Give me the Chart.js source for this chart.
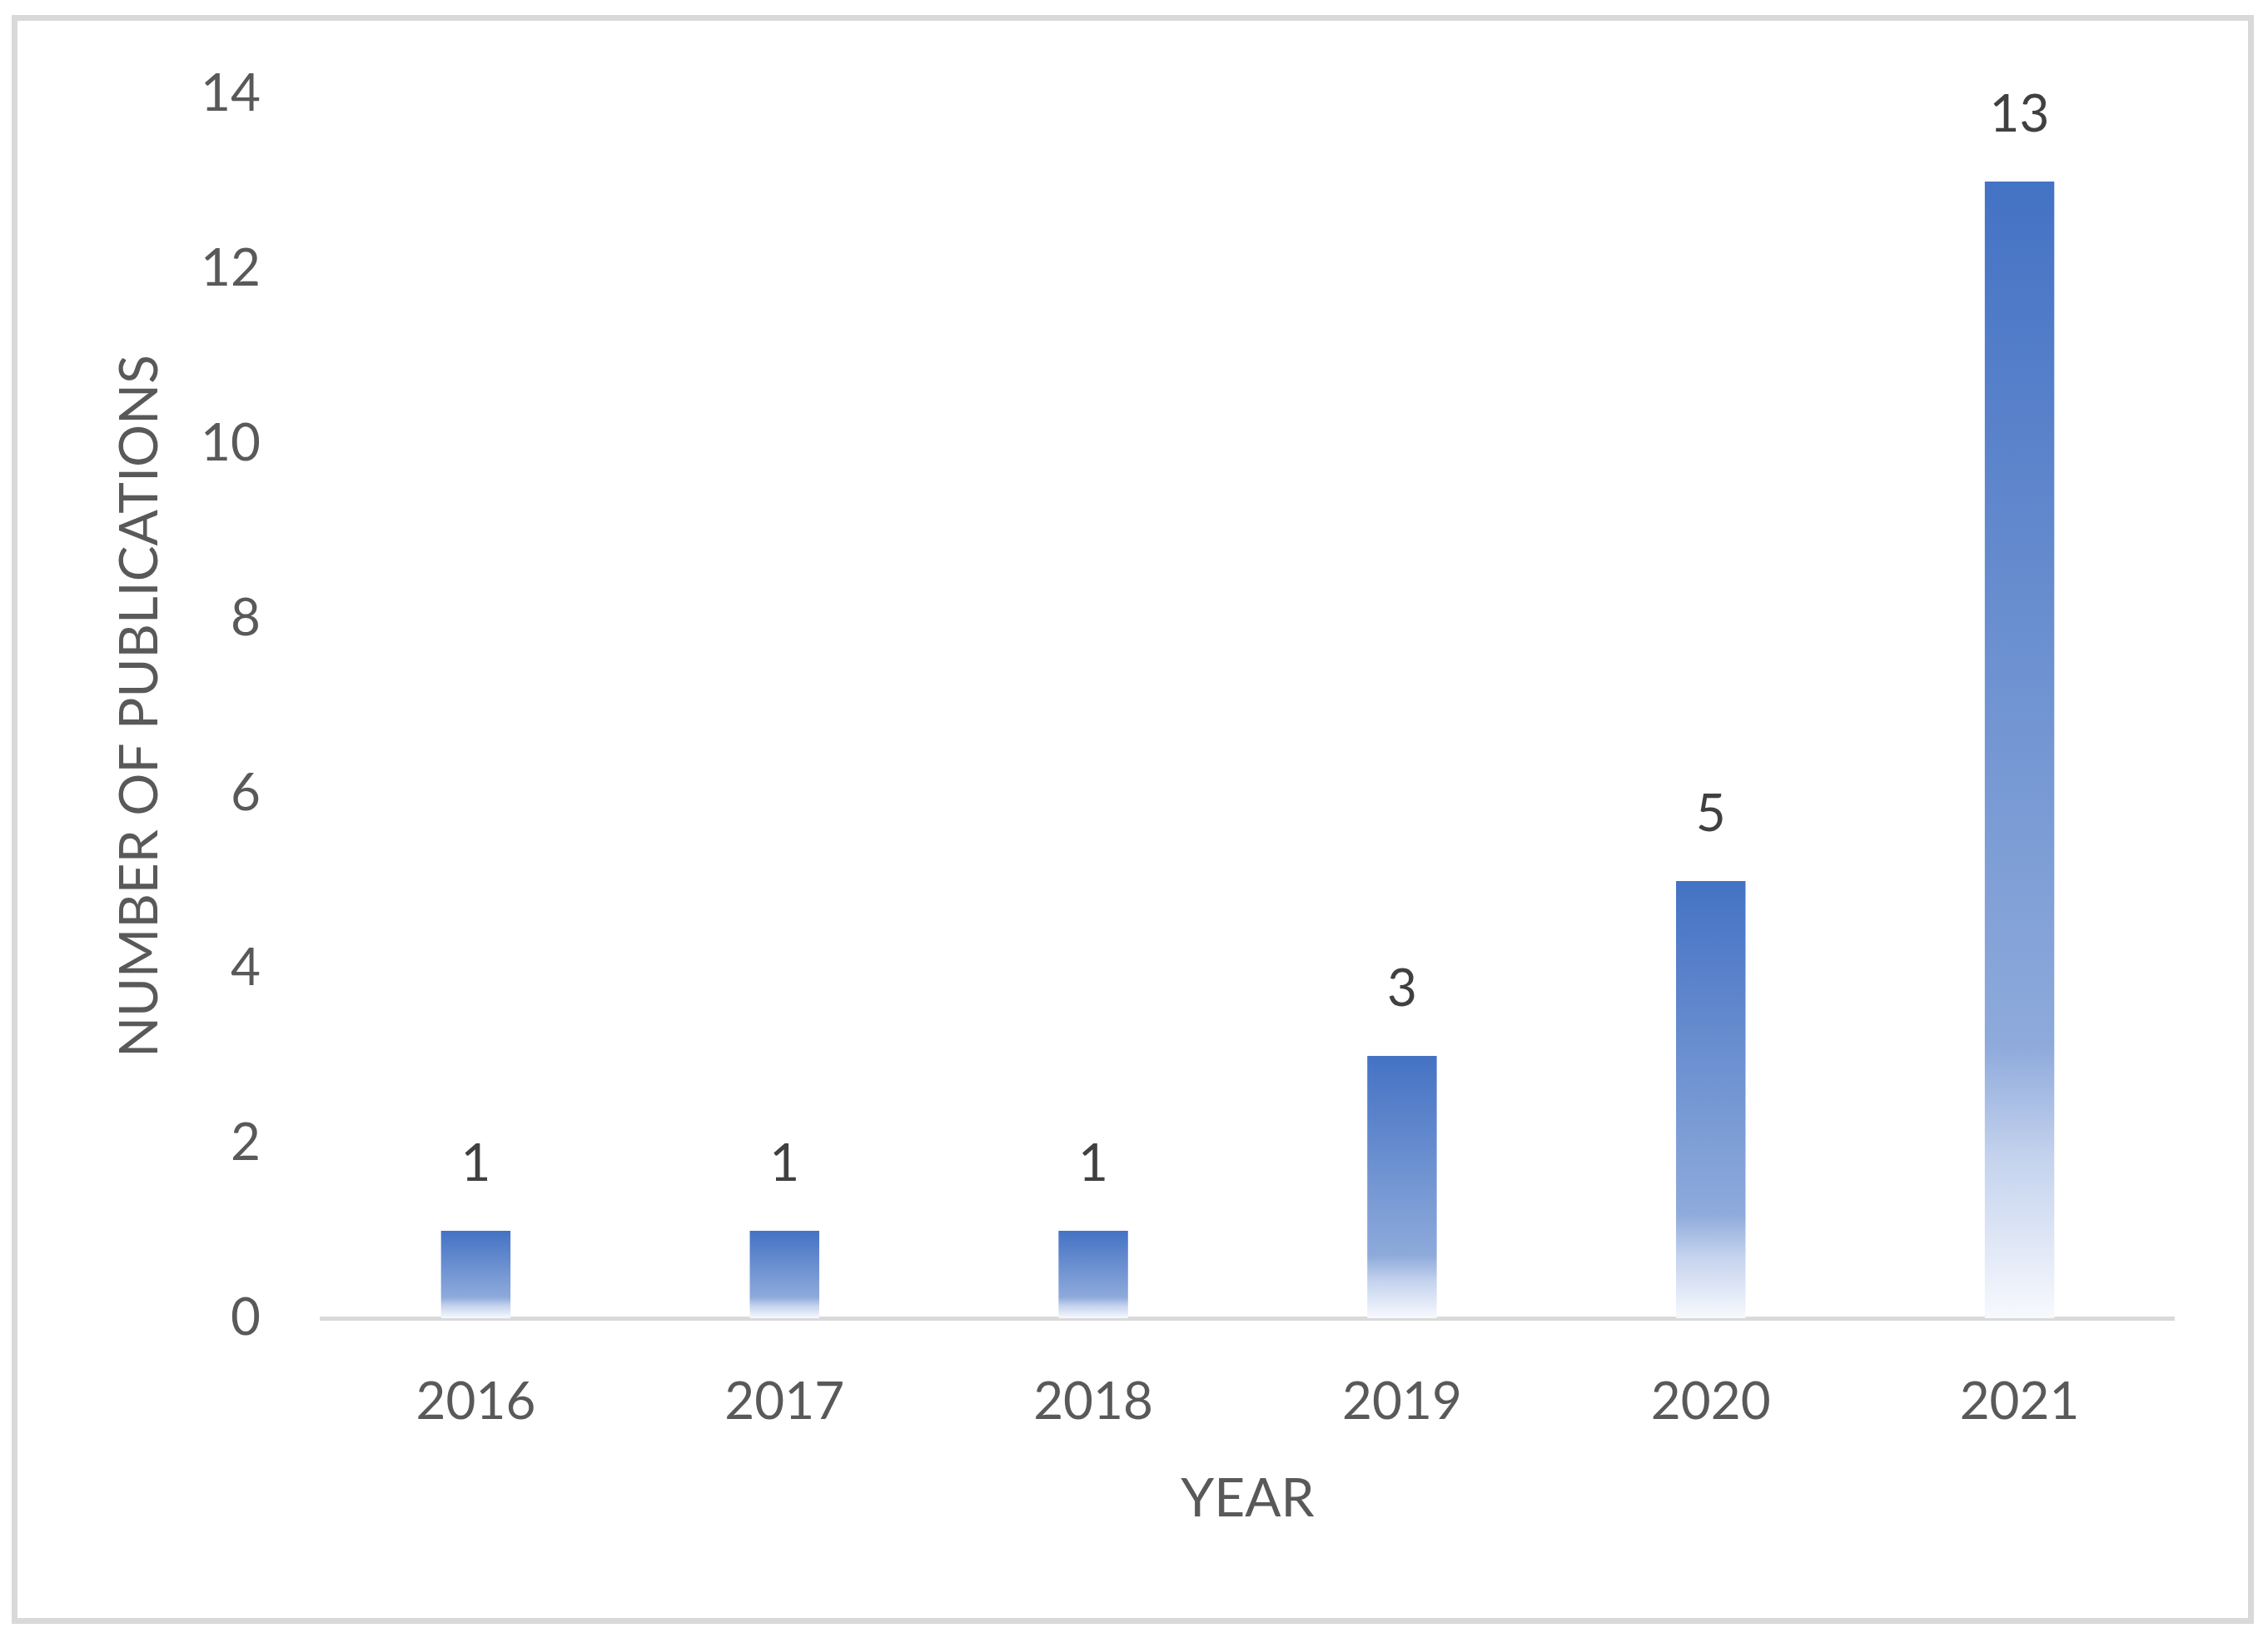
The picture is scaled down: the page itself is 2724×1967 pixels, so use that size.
<!DOCTYPE html>
<html>
<head>
<meta charset="utf-8">
<script src="https://cdn.jsdelivr.net/npm/chart.js@4/dist/chart.umd.min.js"></script>
<style>
  html, body { margin: 0; padding: 0; background: #fff; }
  body { width: 2724px; height: 1967px; position: relative; overflow: hidden; }
  #frame {
    position: absolute; left: 14px; top: 18px; width: 2693px; height: 1932px;
    border: 7px solid #d9d9d9; box-sizing: border-box;
  }
  #chart { position: absolute; left: 0; top: 0; }
</style>
</head>
<body>
<div id="frame"></div>
<canvas id="chart" width="2724" height="1967"></canvas>
<script>
// chart data
const years = ["2016", "2017", "2018", "2019", "2020", "2021"];
const publications = [1, 1, 1, 3, 5, 13];
const yTicks = { min: 0, max: 14, step: 2 };

const FONT = "Lato, 'Open Sans', sans-serif";

// each bar fades from blue at the top to almost white at the baseline
function barGradient(c) {
  const chart = c.chart;
  const yScale = chart.scales.y;
  if (c.type !== "data" || !yScale) return "#4472c4";
  const top = yScale.getPixelForValue(c.parsed.y);
  const bottom = yScale.getPixelForValue(0);
  if (!isFinite(top) || !isFinite(bottom) || top === bottom) return "#4472c4";
  const g = chart.ctx.createLinearGradient(0, top, 0, bottom);
  g.addColorStop(0, "#4472c4");
  g.addColorStop(0.76, "#8eaadb");
  g.addColorStop(0.86, "#c5d3ee");
  g.addColorStop(1, "#f7f9fd");
  return g;
}

// value labels above bars
const valueLabels = {
  id: "valueLabels",
  afterDatasetsDraw(chart) {
    const ctx = chart.ctx;
    const meta = chart.getDatasetMeta(0);
    ctx.save();
    ctx.font = "62px " + FONT;
    ctx.fillStyle = "#404040";
    ctx.textAlign = "center";
    ctx.textBaseline = "middle";
    meta.data.forEach((bar, i) => {
      ctx.fillText(String(publications[i]), bar.x, bar.y - 80);
    });
    ctx.restore();
  }
};

new Chart(document.getElementById("chart"), {
  type: "bar",
  data: {
    labels: years,
    datasets: [{
      data: publications,
      backgroundColor: barGradient,
      borderWidth: 0,
      categoryPercentage: 1,
      barPercentage: 0.225
    }]
  },
  options: {
    responsive: false,
    animation: false,
    layout: { padding: { left: 60, right: 113, top: 113, bottom: 128 } },
    plugins: { legend: { display: false }, tooltip: { enabled: false } },
    scales: {
      x: {
        grid: { display: false, drawTicks: false },
        border: { display: true, color: "#d9d9d9", width: 5 },
        ticks: { color: "#595959", font: { family: FONT, size: 62 }, padding: 64, maxRotation: 0 },
        title: {
          display: true, text: "YEAR", color: "#595959",
          font: { family: FONT, size: 64 }, padding: { top: 41, bottom: 0 }
        },
        afterFit: s => { s.height = 256; }
      },
      y: {
        min: yTicks.min,
        max: yTicks.max,
        grid: { display: false, drawTicks: false },
        border: { display: false },
        ticks: { stepSize: yTicks.step, color: "#595959", font: { family: FONT, size: 62 }, padding: 73 },
        title: {
          display: true, text: "NUMBER OF PUBLICATIONS", color: "#595959",
          font: { family: FONT, size: 64 }, padding: { top: 70, bottom: 0 }
        },
        afterFit: s => { s.width = 326; }
      }
    }
  },
  plugins: [valueLabels]
});
</script>
</body>
</html>
